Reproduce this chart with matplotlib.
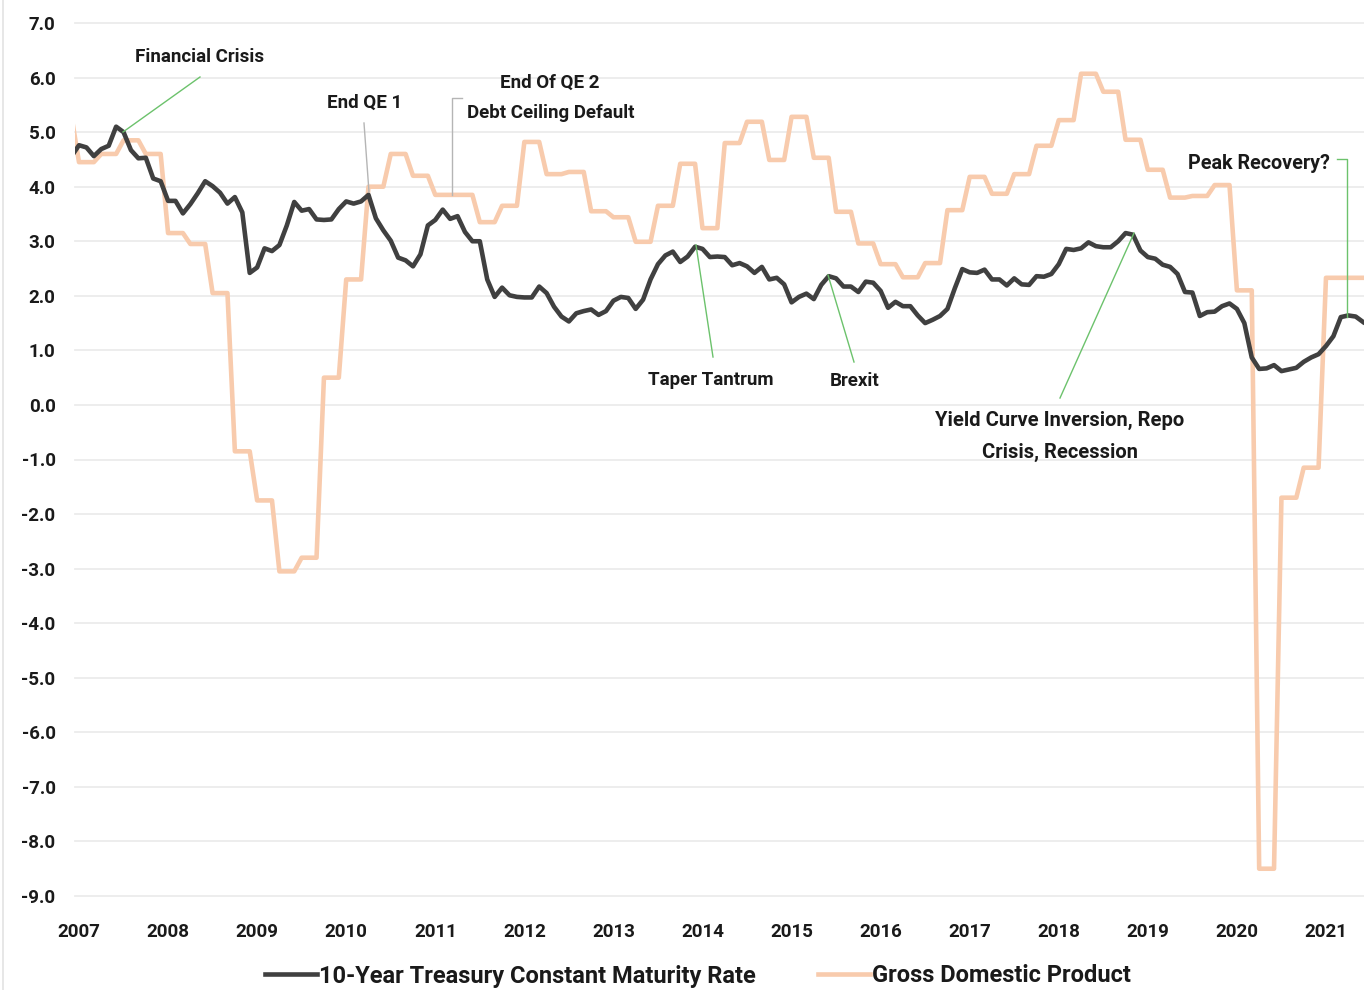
import matplotlib
matplotlib.use("Agg")
import matplotlib.pyplot as plt
import numpy as np

# ---------------- data ----------------
# 10-Year Treasury Constant Maturity Rate, monthly, Dec 2006 .. Jun 2021
treasury_start = (2006, 12)
treasury = [
    4.56,
    4.76, 4.72, 4.56, 4.69, 4.75, 5.10, 5.00, 4.67, 4.52, 4.53, 4.15, 4.10,
    3.74, 3.74, 3.51, 3.68, 3.88, 4.10, 4.01, 3.89, 3.69, 3.81, 3.53, 2.42,
    2.52, 2.87, 2.82, 2.93, 3.29, 3.72, 3.56, 3.59, 3.40, 3.39, 3.40, 3.59,
    3.73, 3.69, 3.73, 3.85, 3.42, 3.20, 3.01, 2.70, 2.65, 2.54, 2.76, 3.29,
    3.39, 3.58, 3.41, 3.46, 3.17, 3.00, 3.00, 2.30, 1.98, 2.15, 2.01, 1.98,
    1.97, 1.97, 2.17, 2.05, 1.80, 1.62, 1.53, 1.68, 1.72, 1.75, 1.65, 1.72,
    1.91, 1.98, 1.96, 1.76, 1.93, 2.30, 2.58, 2.74, 2.81, 2.62, 2.72, 2.90,
    2.86, 2.71, 2.72, 2.71, 2.56, 2.60, 2.54, 2.42, 2.53, 2.30, 2.33, 2.21,
    1.88, 1.98, 2.04, 1.94, 2.20, 2.36, 2.32, 2.17, 2.17, 2.07, 2.26, 2.24,
    2.09, 1.78, 1.89, 1.81, 1.81, 1.64, 1.50, 1.56, 1.63, 1.76, 2.14, 2.49,
    2.43, 2.42, 2.48, 2.30, 2.30, 2.19, 2.32, 2.21, 2.20, 2.36, 2.35, 2.40,
    2.58, 2.86, 2.84, 2.87, 2.98, 2.91, 2.89, 2.89, 3.00, 3.15, 3.12, 2.83,
    2.71, 2.68, 2.57, 2.53, 2.40, 2.07, 2.06, 1.63, 1.70, 1.71, 1.81, 1.86,
    1.76, 1.50, 0.87, 0.66, 0.67, 0.73, 0.62, 0.65, 0.68, 0.79, 0.87, 0.93,
    1.08, 1.26, 1.61, 1.64, 1.62, 1.52,
]

# Gross Domestic Product, % change from year ago, quarterly (Q4 2006 .. Q2 2021)
gdp_q4_2006 = 5.28
gdp_quarterly = [
    4.45, 4.60, 4.85, 4.60,      # 2007
    3.15, 2.95, 2.05, -0.85,     # 2008
    -1.75, -3.05, -2.80, 0.50,   # 2009
    2.30, 4.00, 4.60, 4.20,      # 2010
    3.85, 3.85, 3.35, 3.65,      # 2011
    4.82, 4.23, 4.27, 3.55,      # 2012
    3.44, 2.99, 3.65, 4.42,      # 2013
    3.24, 4.80, 5.19, 4.49,      # 2014
    5.28, 4.53, 3.54, 2.96,      # 2015
    2.58, 2.34, 2.60, 3.57,      # 2016
    4.18, 3.87, 4.23, 4.75,      # 2017
    5.22, 6.07, 5.74, 4.86,      # 2018
    4.31, 3.80, 3.83, 4.03,      # 2019
    2.10, -8.50, -1.70, -1.15,   # 2020
    2.33, 2.33,                  # 2021
]

year_labels = [str(y) for y in range(2007, 2022)]
y_ticks = list(range(-9, 8))

series_names = ["10-Year Treasury Constant Maturity Rate", "Gross Domestic Product"]

# ---------------- derived (monthly time axis) ----------------
n = len(treasury)
t = treasury_start[0] + (treasury_start[1] - 1) / 12 + np.arange(n) / 12.0
gdp_monthly = [gdp_q4_2006] + [v for v in gdp_quarterly for _ in range(3)]
gdp_monthly = np.array(gdp_monthly[:n])

# ---------------- style ----------------
FONT = ["Liberation Sans Narrow", "Roboto", "DejaVu Sans"]
plt.rcParams["font.family"] = FONT
TXT = "#1a1a1a"
GRAY_LINE = "#404040"
PEACH = "#f8cbad"
GREEN = "#6cc26c"
LGRAY = "#b5b5b5"

W, H = 1364, 990
fig = plt.figure(figsize=(W / 100, H / 100), dpi=100)
fig.patch.set_facecolor("white")

# pixel helpers (layout only)
X0_PX, X_PER_YEAR = 79.0, 89.07
Y7_PX, Y_PER_UNIT = 23.0, 54.56


def px2t(px):
    return 2007 + (px - X0_PX) / X_PER_YEAR


def py2v(py):
    return 7 - (py - Y7_PX) / Y_PER_UNIT


ax_left_px, ax_right_px = 75, 1364
ax_top_px, ax_bot_px = 23, 896
ax = fig.add_axes([ax_left_px / W, 1 - ax_bot_px / H,
                   (ax_right_px - ax_left_px) / W, (ax_bot_px - ax_top_px) / H])
ax.set_xlim(px2t(ax_left_px), px2t(ax_right_px))
ax.set_ylim(-9, 7)

for s in ax.spines.values():
    s.set_visible(False)
ax.set_yticks(y_ticks)
ax.set_yticklabels([f"{v:.1f}" for v in y_ticks])
ax.set_xticks(range(2007, 2022))
ax.set_xticklabels(year_labels)
ax.tick_params(axis="both", length=0, labelsize=13.5, labelcolor=TXT)
ax.tick_params(axis="y", pad=14)
ax.tick_params(axis="x", pad=19.5)
for lab in ax.get_xticklabels() + ax.get_yticklabels():
    lab.set_fontweight("bold")
ax.grid(axis="y", color="#ececec", linewidth=1.3, clip_on=False)
ax.grid(axis="x", visible=False)
ax.set_axisbelow(True)

l_gdp, = ax.plot(t, gdp_monthly, color=PEACH, lw=3.3, solid_joinstyle="round",
                 label=series_names[1], zorder=2)
l_tr, = ax.plot(t, treasury, color=GRAY_LINE, lw=3.3, solid_joinstyle="round",
                label=series_names[0], zorder=3)

# ---------------- annotations ----------------
ann_fs = 13.5


def seg(points_px, color):
    xs = [px2t(p[0]) for p in points_px]
    ys = [py2v(p[1]) for p in points_px]
    ax.plot(xs, ys, color=color, lw=1.0, zorder=4, clip_on=False)


def label(px, py, text, ha="center", fs=ann_fs):
    ax.text(px2t(px), py2v(py), text, ha=ha, va="center", fontsize=fs,
            color=TXT, fontweight="bold", zorder=5)


label(200, 57, "Financial Crisis")
seg([(200, 77), (123, 132)], GREEN)

label(365, 103, "End QE 1")
seg([(364, 123), (369, 192)], LGRAY)

label(550, 83, "End Of QE 2")
label(551, 113, "Debt Ceiling Default")
seg([(462, 98), (452, 98), (452, 195)], LGRAY)

label(711, 380, "Taper Tantrum")
seg([(713, 357), (696, 245)], GREEN)

label(855, 381, "Brexit")
seg([(854, 362), (828, 275)], GREEN)

label(1060, 420, "Yield Curve Inversion, Repo", fs=14.5)
label(1060, 452, "Crisis, Recession", fs=14.5)
seg([(1060, 398), (1134, 233)], GREEN)

label(1330, 163, "Peak Recovery?", ha="right", fs=14.2)
seg([(1337, 159), (1347, 159), (1347, 317)], GREEN)

# ---------------- legend ----------------
leg = fig.legend(handles=[l_tr, l_gdp], labels=series_names, loc="center",
                 bbox_to_anchor=(698 / W, 1 - 976 / H), ncol=2, frameon=False,
                 handlelength=2.2, handletextpad=0.1, columnspacing=2.6,
                 prop={"size": 17, "weight": "bold", "family": FONT})
for txt in leg.get_texts():
    txt.set_color(TXT)

# faint chart border on the left
fig.add_artist(plt.Line2D([3 / W, 3 / W], [0, 1], transform=fig.transFigure,
                          color="#e3e3e3", lw=1.2))

fig.savefig("out.png", dpi=100, facecolor="white")
